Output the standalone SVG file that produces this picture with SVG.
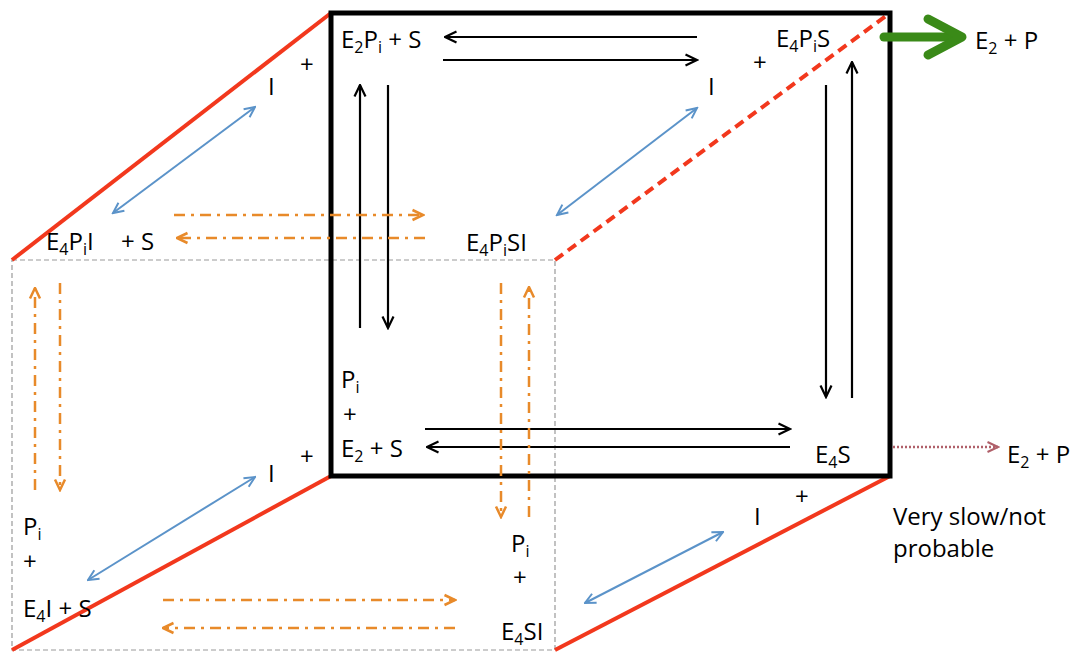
<svg xmlns="http://www.w3.org/2000/svg" width="1078" height="654" viewBox="0 0 1078 654">
<defs>
<style>
text{font-family:"Open Sans","Liberation Sans",sans-serif;font-size:24px;fill:#000}
.sub{font-size:16px}
.blk{stroke:#000;stroke-width:2.2;fill:none}
.blu{stroke:#5b93c9;stroke-width:2;fill:none}
.org{stroke:#e88a2a;stroke-width:2.5;fill:none;stroke-dasharray:11 6 3 6}
.red{stroke:#f2381d;stroke-width:4;fill:none}
.gry{stroke:#999;stroke-width:1.2;fill:none;stroke-dasharray:5 3}
</style>
<marker id="ab" viewBox="0 0 14 14" refX="12.5" refY="7" markerWidth="14" markerHeight="14" markerUnits="userSpaceOnUse" orient="auto-start-reverse"><path d="M1,1.5 L12.5,7 L1,12.5" fill="none" stroke="#000" stroke-width="2.2"/></marker>
<marker id="bb" viewBox="0 0 14 14" refX="12.5" refY="7" markerWidth="14" markerHeight="14" markerUnits="userSpaceOnUse" orient="auto-start-reverse"><path d="M2,2 L12.5,7 L2,12" fill="none" stroke="#5b93c9" stroke-width="2"/></marker>
<marker id="ob" viewBox="0 0 14 14" refX="12.5" refY="7" markerWidth="14" markerHeight="14" markerUnits="userSpaceOnUse" orient="auto"><path d="M2,2 L12.5,7 L2,12" fill="none" stroke="#e88a2a" stroke-width="2.5" stroke-dasharray="none"/></marker>
<marker id="rb" viewBox="0 0 14 14" refX="12.5" refY="7" markerWidth="14" markerHeight="14" markerUnits="userSpaceOnUse" orient="auto"><path d="M2,2 L12.5,7 L2,12" fill="none" stroke="#b0606a" stroke-width="2" stroke-dasharray="none"/></marker>
</defs>

<g id="frame">
<rect x="12" y="260" width="543" height="390" class="gry"/>
<line x1="12" y1="260" x2="331" y2="13" class="red"/>
<line x1="12" y1="650" x2="331" y2="476" class="red"/>
<line x1="555" y1="650" x2="890" y2="476" class="red"/>
<line x1="555" y1="260" x2="890" y2="13" class="red" stroke-width="3.5" stroke-dasharray="10 6"/>
<rect x="331" y="13" width="559" height="463" fill="none" stroke="#000" stroke-width="5"/>
</g>

<g id="connectors">
<line x1="697" y1="37" x2="445" y2="37" class="blk" marker-end="url(#ab)"/>
<line x1="443" y1="60" x2="697" y2="60" class="blk" marker-end="url(#ab)"/>
<line x1="360" y1="328" x2="360" y2="85" class="blk" marker-end="url(#ab)"/>
<line x1="388" y1="85" x2="388" y2="328" class="blk" marker-end="url(#ab)"/>
<line x1="826" y1="85" x2="826" y2="397" class="blk" marker-end="url(#ab)"/>
<line x1="852" y1="398" x2="852" y2="62" class="blk" marker-end="url(#ab)"/>
<line x1="425" y1="429" x2="790" y2="429" class="blk" marker-end="url(#ab)"/>
<line x1="790" y1="447" x2="427" y2="447" class="blk" marker-end="url(#ab)"/>

<line x1="113" y1="213" x2="255" y2="107" class="blu" marker-start="url(#bb)" marker-end="url(#bb)"/>
<line x1="557" y1="215" x2="697" y2="108" class="blu" marker-start="url(#bb)" marker-end="url(#bb)"/>
<line x1="88" y1="580" x2="255" y2="477" class="blu" marker-start="url(#bb)" marker-end="url(#bb)"/>
<line x1="585" y1="603" x2="723" y2="532" class="blu" marker-start="url(#bb)" marker-end="url(#bb)"/>

<line x1="174" y1="215" x2="423" y2="215" class="org" marker-end="url(#ob)"/>
<line x1="425" y1="238" x2="177" y2="238" class="org" marker-end="url(#ob)"/>
<line x1="35" y1="490" x2="35" y2="288" class="org" marker-end="url(#ob)"/>
<line x1="60" y1="283" x2="60" y2="490" class="org" marker-end="url(#ob)"/>
<line x1="501" y1="283" x2="501" y2="517" class="org" marker-end="url(#ob)"/>
<line x1="529" y1="517" x2="529" y2="287" class="org" marker-end="url(#ob)"/>
<line x1="163" y1="600" x2="455" y2="600" class="org" marker-end="url(#ob)"/>
<line x1="455" y1="628" x2="163" y2="628" class="org" marker-end="url(#ob)"/>

<g id="green-arrow" stroke="#3a8a18" stroke-width="9" fill="none" stroke-linecap="round" stroke-linejoin="round">
<line x1="884" y1="37" x2="958" y2="37"/>
<polyline points="928,19 962,37 928,55"/>
</g>
<line x1="893" y1="447" x2="998" y2="447" stroke="#b0606a" stroke-width="2.5" stroke-dasharray="2 2" marker-end="url(#rb)"/>
</g>

<g id="n-E2PiS"><text x="341" y="48">E<tspan class="sub" dy="5">2</tspan><tspan dy="-5">P</tspan><tspan class="sub" dy="5">i</tspan><tspan dy="-5"> + S</tspan></text></g>
<g id="n-I-tl"><text x="300" y="73">+</text><text x="268" y="95">I</text></g>
<g id="n-E4PiI"><text x="46" y="250">E<tspan class="sub" dy="5">4</tspan><tspan dy="-5">P</tspan><tspan class="sub" dy="5">i</tspan><tspan dy="-5">I</tspan></text><text x="121" y="250">+ S</text></g>
<g id="n-E4PiSI"><text x="466" y="251">E<tspan class="sub" dy="5">4</tspan><tspan dy="-5">P</tspan><tspan class="sub" dy="5">i</tspan><tspan dy="-5">SI</tspan></text></g>
<g id="n-I-tr"><text x="753" y="71">+</text><text x="708" y="95">I</text></g>
<g id="n-E4PiS"><text x="776" y="47">E<tspan class="sub" dy="5">4</tspan><tspan dy="-5">P</tspan><tspan class="sub" dy="5">i</tspan><tspan dy="-5">S</tspan></text></g>
<g id="n-E2P-top"><text x="975" y="49">E<tspan class="sub" dy="5">2</tspan><tspan dy="-5"> + P</tspan></text></g>
<g id="n-Pi-E4IS"><text x="23" y="535">P<tspan class="sub" dy="5">i</tspan></text><text x="23" y="570">+</text><text x="23" y="617">E<tspan class="sub" dy="5">4</tspan><tspan dy="-5">I + S</tspan></text></g>
<g id="n-I-bl"><text x="300" y="465">+</text><text x="268" y="482">I</text></g>
<g id="n-Pi-E2S"><text x="341" y="388">P<tspan class="sub" dy="5">i</tspan></text><text x="343" y="423">+</text><text x="341" y="457">E<tspan class="sub" dy="5">2</tspan><tspan dy="-5"> + S</tspan></text></g>
<g id="n-Pi-E4SI"><text x="511" y="552">P<tspan class="sub" dy="5">i</tspan></text><text x="513" y="586">+</text><text x="501" y="640">E<tspan class="sub" dy="5">4</tspan><tspan dy="-5">SI</tspan></text></g>
<g id="n-E4S"><text x="815" y="463">E<tspan class="sub" dy="5">4</tspan><tspan dy="-5">S</tspan></text></g>
<g id="n-I-br"><text x="795" y="505">+</text><text x="754" y="525">I</text></g>
<g id="n-E2P-bot"><text x="1007" y="463">E<tspan class="sub" dy="5">2</tspan><tspan dy="-5"> + P</tspan></text></g>
<g id="n-note"><text x="893" y="525">Very slow/not</text><text x="893" y="557">probable</text></g>
</svg>
